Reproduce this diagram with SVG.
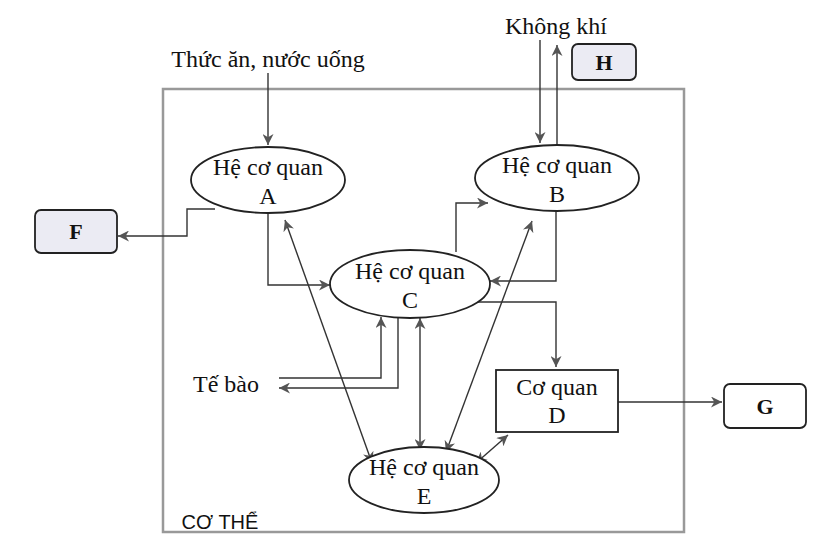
<svg xmlns="http://www.w3.org/2000/svg" width="832" height="559" viewBox="0 0 832 559">
<defs>
<marker id="ah" viewBox="0 0 10 10" refX="10" refY="5" markerWidth="11" markerHeight="11" markerUnits="userSpaceOnUse" orient="auto-start-reverse"><path d="M0,0 L10,5 L0,10 L3,5 z" fill="#555"/></marker>
</defs>
<style>
text{font-family:"Liberation Serif",serif;font-size:24px;fill:#111;text-anchor:middle}
.n{fill:#fff;stroke:#222;stroke-width:1.8}
.c path,.c line,.c polyline{fill:none;stroke:#333;stroke-width:1.4}
.lab{fill:#ebebf3;stroke:#222;stroke-width:1.8}
.b{font-weight:bold;font-size:22px}
</style>
<rect width="832" height="559" fill="#fff"/>
<rect x="163" y="89" width="521" height="443" fill="none" stroke="#999" stroke-width="2.5"/>
<text x="220" y="529" style="font-family:'Liberation Sans',sans-serif;font-size:20px">CƠ THỂ</text>
<text x="268" y="67">Thức ăn, nước uống</text>
<text x="556" y="34">Không khí</text>
<text x="226" y="392">Tế bào</text>
<g class="c">
<polyline points="268,73 268,145" marker-end="url(#ah)"/>
<polyline points="540,40 540,143" marker-end="url(#ah)"/>
<polyline points="557,145 557,45" marker-end="url(#ah)"/>
<polyline points="215,209 187,209 187,236 118,236" marker-end="url(#ah)"/>
<polyline points="268,213 268,285 330,285" marker-end="url(#ah)"/>
<polyline points="456,252 456,203 488,203" marker-end="url(#ah)"/>
<polyline points="556,211 556,281 490,281" marker-end="url(#ah)"/>
<polyline points="478,302 556,302 556,367" marker-end="url(#ah)"/>
<polyline points="279,378 381,378 381,317" marker-end="url(#ah)"/>
<polyline points="398,317 398,388 279,388" marker-end="url(#ah)"/>
<line x1="285" y1="220" x2="372" y2="463" marker-start="url(#ah)" marker-end="url(#ah)"/>
<line x1="532" y1="221" x2="446" y2="452" marker-start="url(#ah)" marker-end="url(#ah)"/>
<line x1="420" y1="318" x2="420" y2="450" marker-start="url(#ah)" marker-end="url(#ah)"/>
<line x1="508" y1="435" x2="476" y2="463" marker-start="url(#ah)" marker-end="url(#ah)"/>
<line x1="618" y1="402" x2="722" y2="402" marker-end="url(#ah)"/>
</g>
<g id="A"><ellipse class="n" cx="268" cy="180" rx="77" ry="33"/><text x="268" y="175">Hệ cơ quan</text><text x="268" y="204">A</text></g>
<g id="B"><ellipse class="n" cx="557" cy="178" rx="82" ry="33"/><text x="557" y="173">Hệ cơ quan</text><text x="557" y="202">B</text></g>
<g id="C"><ellipse class="n" cx="410" cy="284" rx="80" ry="34"/><text x="410" y="279">Hệ cơ quan</text><text x="410" y="308">C</text></g>
<g id="E"><ellipse class="n" cx="424" cy="480" rx="75" ry="33"/><text x="424" y="475">Hệ cơ quan</text><text x="424" y="504">E</text></g>
<g id="D"><rect class="n" x="496" y="370" width="122" height="62"/><text x="557" y="395">Cơ quan</text><text x="557" y="423">D</text></g>
<g id="F"><rect class="lab" x="35" y="210" width="82" height="43" rx="6"/><text class="b" x="76" y="239">F</text></g>
<g id="H"><rect class="lab" x="572" y="44" width="64" height="36" rx="6"/><text class="b" x="604" y="70">H</text></g>
<g id="G"><rect class="n" x="724" y="384" width="82" height="44" rx="6"/><text class="b" x="765" y="414">G</text></g>
</svg>
